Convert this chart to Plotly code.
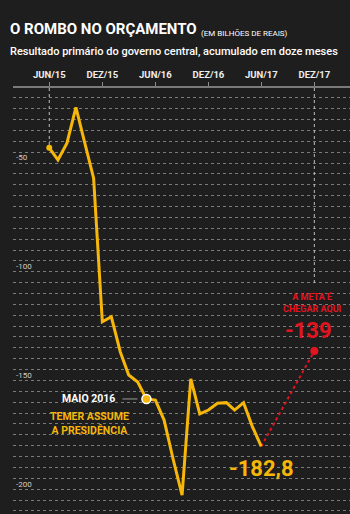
import plotly.graph_objects as go

# ---------------- data ----------------
MONTHS = [
    "2015-06-01", "2015-07-01", "2015-08-01", "2015-09-01", "2015-10-01", "2015-11-01",
    "2015-12-01", "2016-01-01", "2016-02-01", "2016-03-01", "2016-04-01", "2016-05-01",
    "2016-06-01", "2016-07-01", "2016-08-01", "2016-09-01", "2016-10-01", "2016-11-01",
    "2016-12-01", "2017-01-01", "2017-02-01", "2017-03-01", "2017-04-01", "2017-05-01",
    "2017-06-01",
]
RESULT = [
    -45.5, -51.1, -43.4, -26.9, -43.0, -59.5,
    -125.5, -123.2, -139.4, -150.0, -153.2, -161.0,
    -161.5, -170.7, -188.6, -205.2, -151.8, -167.9,
    -166.1, -163.0, -162.7, -166.1, -162.7, -173.6,
    -182.8,
]
TARGET_DATE = "2017-12-01"
TARGET_VALUE = -139
TEMER_DATE = "2016-05-01"

TICK_DATES = ["2015-06-01", "2015-12-01", "2016-06-01", "2016-12-01", "2017-06-01", "2017-12-01"]
TICK_TEXT = ["JUN/15", "DEZ/15", "JUN/16", "DEZ/16", "JUN/17", "DEZ/17"]
Y_TICKS = [-50, -100, -150, -200]
Y_TICK_TEXT = ["-50", "-100", "-150", "-200"]

# ---------------- style ----------------
W, H = 350, 514
ML, MT = 13, 88
BG = "#1e1e1e"
YELLOW = "#f6b70a"
RED = "#e3141f"
COND = "Roboto, sans-serif"
Y_RANGE = [-213.9, -18.0]
X_RANGE = ["2015-01-27", "2018-04-03"]
META_LINE_END = -108.5


def px_x(x):
    return (x - ML) / (W - ML)


def px_y(y):
    return (H - y) / (H - MT)


def fmt(v):
    return f"{v:.1f}".replace(".", ",")


fig = go.Figure()

# vertical dotted guides
fig.add_trace(go.Scatter(x=[MONTHS[0], MONTHS[0]], y=[Y_RANGE[1], RESULT[0]], mode="lines",
                         line=dict(color="#bdbdbd", width=1, dash="dot"), hoverinfo="skip"))
fig.add_trace(go.Scatter(x=[TARGET_DATE, TARGET_DATE], y=[Y_RANGE[1], META_LINE_END], mode="lines",
                         line=dict(color="#bdbdbd", width=1, dash="dot"), hoverinfo="skip"))

# red dashed projection
fig.add_trace(go.Scatter(x=[MONTHS[-1], TARGET_DATE], y=[RESULT[-1], TARGET_VALUE], mode="lines",
                         line=dict(color=RED, width=2, dash="3px,3px"), hoverinfo="skip"))

# main line
fig.add_trace(go.Scatter(x=MONTHS, y=RESULT, mode="lines",
                         line=dict(color=YELLOW, width=3), hoverinfo="skip"))

# start dot
fig.add_trace(go.Scatter(x=[MONTHS[0]], y=[RESULT[0]], mode="markers",
                         marker=dict(color=YELLOW, size=6), hoverinfo="skip"))
# Temer marker
ti = MONTHS.index(TEMER_DATE)
fig.add_trace(go.Scatter(x=[MONTHS[ti]], y=[RESULT[ti]], mode="markers",
                         marker=dict(color=YELLOW, size=9, line=dict(color="white", width=1.5)),
                         hoverinfo="skip"))
# target dot
fig.add_trace(go.Scatter(x=[TARGET_DATE], y=[TARGET_VALUE], mode="markers",
                         marker=dict(color=RED, size=8), hoverinfo="skip"))

# connector line for MAIO 2016
fig.add_shape(type="line", xref="x", xsizemode="pixel", xanchor=MONTHS[ti], x0=-24, x1=-9,
              yref="y", ysizemode="pixel", yanchor=RESULT[ti], y0=0, y1=0,
              line=dict(color="#9a9a9a", width=1))

ann = []
# title
ann.append(dict(xref="paper", yref="paper", x=px_x(8), y=px_y(29), xanchor="left", yanchor="middle",
                text="O ROMBO NO ORÇAMENTO", showarrow=False,
                font=dict(family=COND, size=15, color="white", weight="bold")))
ann.append(dict(xref="paper", yref="paper", x=px_x(199), y=px_y(33), xanchor="left", yanchor="middle",
                text="(EM BILHÕES DE REAIS)", showarrow=False,
                font=dict(family="Roboto, sans-serif", size=8, color="white")))
ann.append(dict(xref="paper", yref="paper", x=px_x(8), y=px_y(52), xanchor="left", yanchor="middle",
                text="Resultado primário do governo central, acumulado em doze meses", showarrow=False,
                font=dict(family="Roboto, sans-serif", size=11, color="white", weight=500)))

# Temer annotations
ann.append(dict(x=MONTHS[ti], y=RESULT[ti], xref="x", yref="y", xanchor="right", yanchor="middle",
                xshift=-29, yshift=0, text="MAIO 2016", showarrow=False,
                font=dict(family=COND, size=10.5, color="white", weight="bold")))
ann.append(dict(x=MONTHS[ti], y=RESULT[ti], xref="x", yref="y", xanchor="center", yanchor="middle",
                xshift=-57, yshift=-25, text="TEMER ASSUME<br>A PRESIDÊNCIA", showarrow=False,
                align="center",
                font=dict(family=COND, size=10.5, color=YELLOW, weight="bold")))

# last value
ann.append(dict(x=MONTHS[-1], y=RESULT[-1], xref="x", yref="y", xanchor="center", yanchor="middle",
                xshift=0, yshift=-22, text=fmt(RESULT[-1]), showarrow=False,
                font=dict(family=COND, size=22, color=YELLOW, weight="bold")))

# target
ann.append(dict(x=TARGET_DATE, y=TARGET_VALUE, xref="x", yref="y", xanchor="center", yanchor="middle",
                xshift=-6, yshift=21, text=str(TARGET_VALUE), showarrow=False,
                font=dict(family=COND, size=22, color=RED, weight="bold")))
ann.append(dict(x=TARGET_DATE, y=TARGET_VALUE, xref="x", yref="y", xanchor="center", yanchor="middle",
                xshift=-2, yshift=49, text="A META É<br>CHEGAR AQUI", showarrow=False, align="center",
                font=dict(family=COND, size=9, color=RED, weight="bold")))

fig.update_layout(
    width=W, height=H,
    margin=dict(l=ML, r=0, t=MT, b=0, pad=0),
    paper_bgcolor=BG, plot_bgcolor=BG,
    showlegend=False,
    annotations=ann,
    xaxis=dict(type="date", range=X_RANGE, side="top", tickmode="array",
               tickvals=TICK_DATES, ticktext=TICK_TEXT,
               ticks="outside", ticklen=4, tickcolor="#8a8a8a", tickwidth=1,
               showline=True, linecolor="#7a7a7a", linewidth=2,
               showgrid=False, zeroline=False,
               tickfont=dict(family=COND, size=9.5, color="#eeeeee", weight="bold")),
    yaxis=dict(range=Y_RANGE, tickmode="array", tickvals=Y_TICKS, ticktext=Y_TICK_TEXT,
               ticklabelposition="inside", ticks="", showgrid=False, zeroline=False,
               showline=False,
               tickfont=dict(family="Roboto, sans-serif", size=8, color="#cfcfcf"),
               minor=dict(tickmode="linear", tick0=-2.5, dtick=5, showgrid=True,
                          gridcolor="#7a7a7a", griddash="dot", gridwidth=1, ticks="")),
)

fig.write_html("out.html")
